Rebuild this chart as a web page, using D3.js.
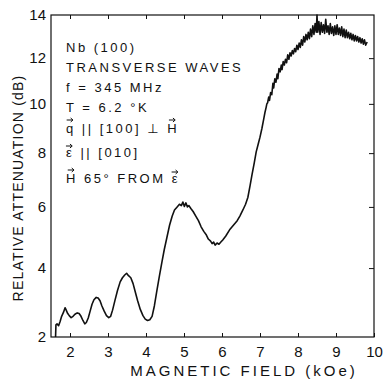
<!DOCTYPE html>
<html>
<head>
<meta charset="utf-8">
<script src="https://cdn.jsdelivr.net/npm/d3@7"></script>
<style>
  body { margin: 0; background: #fff; }
  text { font-family: "Liberation Sans", "DejaVu Sans", sans-serif; fill: #111; }
</style>
</head>
<body>
<div id="chart"></div>
<script>
// Tick values
const xTicks = [2, 3, 4, 5, 6, 7, 8, 9, 10];
const yTicks = [2, 4, 6, 8, 10, 12, 14];

// Annotation lines (vec marks letters that carry an arrow)
const notes = [
    [{t: "Nb (100)"}],
    [{t: "TRANSVERSE WAVES"}],
    [{t: "f = 345 MHz"}],
    [{t: "T = 6.2 °K"}],
    [{t: "q", vec: true}, {t: " || [100]  ⊥ "}, {t: "H", vec: true}],
    [{t: "ε", vec: true}, {t: " || [010]"}],
    [{t: "H", vec: true}, {t: " 65° FROM "}, {t: "ε", vec: true}]
];

// Trace: [field (kOe), relative attenuation (dB)]
const trace = [
    [1.62, 2.0], [1.63, 2.35], [1.66, 2.38], [1.70, 2.33], [1.74, 2.45], [1.78, 2.6],
    [1.83, 2.72], [1.87, 2.85], [1.90, 2.78], [1.94, 2.68], [1.98, 2.62], [2.03, 2.56],
    [2.08, 2.6], [2.13, 2.66], [2.19, 2.7], [2.24, 2.68], [2.29, 2.6], [2.34, 2.48],
    [2.39, 2.38], [2.43, 2.42], [2.48, 2.55], [2.53, 2.75], [2.58, 2.95], [2.63, 3.08],
    [2.69, 3.15], [2.74, 3.13], [2.79, 3.05], [2.84, 2.9], [2.90, 2.75], [2.96, 2.62],
    [3.02, 2.56], [3.07, 2.6], [3.12, 2.78], [3.18, 3.05], [3.25, 3.35], [3.32, 3.6],
    [3.38, 3.72], [3.44, 3.8], [3.49, 3.85], [3.54, 3.78], [3.60, 3.72], [3.66, 3.55],
    [3.72, 3.3], [3.78, 3.05], [3.85, 2.8], [3.92, 2.62], [3.98, 2.52], [4.04, 2.48],
    [4.10, 2.5], [4.16, 2.6], [4.22, 2.9], [4.28, 3.3], [4.35, 3.75], [4.42, 4.2],
    [4.48, 4.6], [4.55, 5.0], [4.62, 5.4], [4.69, 5.7], [4.75, 5.9], [4.82, 6.0],
    [4.88, 6.1], [4.93, 6.05], [4.97, 6.18], [5.01, 6.02], [5.05, 6.15], [5.09, 6.0],
    [5.13, 6.05], [5.18, 5.95], [5.24, 5.85], [5.31, 5.7], [5.38, 5.55], [5.45, 5.35],
    [5.52, 5.2], [5.58, 5.1], [5.64, 4.95], [5.70, 4.88], [5.74, 4.8], [5.78, 4.85],
    [5.82, 4.75], [5.87, 4.82], [5.92, 4.78], [5.97, 4.85], [6.02, 4.92], [6.10, 5.05],
    [6.20, 5.25], [6.30, 5.4], [6.40, 5.55], [6.47, 5.7], [6.55, 5.9], [6.62, 6.1],
    [6.68, 6.35], [6.74, 6.8], [6.79, 7.2], [6.85, 7.65], [6.90, 8.05], [6.95, 8.35],
    [7.00, 8.65], [7.05, 9.0], [7.10, 9.4], [7.13, 9.65], [7.16, 9.85], [7.18, 10.0],
    [7.20, 10.05], [7.23, 10.3], [7.25, 10.15], [7.28, 10.5], [7.31, 10.4], [7.34, 10.9],
    [7.36, 10.7], [7.39, 11.1], [7.42, 10.95], [7.45, 11.3], [7.47, 11.1], [7.50, 11.55],
    [7.53, 11.4], [7.56, 11.7], [7.58, 11.5], [7.61, 11.85], [7.64, 11.7], [7.67, 11.95],
    [7.70, 11.8], [7.73, 12.15], [7.76, 11.95], [7.79, 12.25], [7.82, 12.1], [7.85, 12.35],
    [7.88, 12.2], [7.91, 12.45], [7.94, 12.3], [7.97, 12.6], [8.00, 12.4], [8.03, 12.7],
    [8.06, 12.5], [8.09, 12.85], [8.12, 12.6], [8.15, 13.0], [8.18, 12.75], [8.21, 13.1],
    [8.24, 12.85], [8.27, 13.2], [8.30, 12.9], [8.33, 13.35], [8.36, 13.0], [8.39, 13.5],
    [8.42, 13.1], [8.45, 13.6], [8.48, 13.2], [8.50, 14.0], [8.52, 13.2], [8.55, 13.7],
    [8.58, 13.1], [8.61, 13.65], [8.64, 13.2], [8.67, 13.55], [8.70, 13.15], [8.73, 13.8],
    [8.76, 13.2], [8.79, 13.5], [8.82, 13.1], [8.85, 13.6], [8.88, 13.15], [8.91, 13.45],
    [8.94, 13.05], [8.97, 13.5], [9.00, 13.1], [9.03, 13.55], [9.06, 13.1], [9.09, 13.4],
    [9.12, 13.05], [9.15, 13.45], [9.18, 13.0], [9.21, 13.35], [9.24, 12.95], [9.27, 13.3],
    [9.30, 12.95], [9.33, 13.2], [9.36, 12.9], [9.39, 13.15], [9.42, 12.85], [9.45, 13.1],
    [9.48, 12.8], [9.51, 13.05], [9.54, 12.8], [9.57, 13.0], [9.60, 12.75], [9.63, 12.95],
    [9.66, 12.7], [9.69, 12.9], [9.72, 12.65], [9.75, 12.85], [9.78, 12.6], [9.82, 12.75]
];

// Dimensions and margins
const margin = {top: 15, right: 9, bottom: 44, left: 51},
      width = 383 - margin.left - margin.right,
      height = 381 - margin.top - margin.bottom;

const svg = d3.select("#chart")
    .append("svg")
    .attr("width", 383)
    .attr("height", 381)
  .append("g")
    .attr("transform", `translate(${margin.left},${margin.top})`);

// Scales (the recorder's dB axis is not evenly spaced)
const x = d3.scaleLinear()
    .domain([1.5, 10])
    .range([0, width]);

const yStops = [1, 0.786, 0.596, 0.429, 0.276, 0.134, 0];
const y = d3.scaleLinear()
    .domain(yTicks)
    .range(yStops.map(f => f * height));

// Frame
svg.append("rect")
    .attr("width", width)
    .attr("height", height)
    .attr("fill", "none")
    .attr("stroke", "#111")
    .attr("stroke-width", 1.2);

// Bottom axis
svg.append("g")
    .attr("transform", `translate(0,${height})`)
    .call(d3.axisBottom(x).tickValues(xTicks).tickSizeInner(-4).tickSizeOuter(0).tickPadding(9))
    .call(g => g.select(".domain").remove())
    .call(g => g.selectAll("text").attr("font-size", 15).attr("font-family", "Liberation Sans"));

// Top axis ticks
svg.append("g")
    .call(d3.axisTop(x).tickValues(xTicks.slice(0, -1)).tickSizeInner(-4).tickSizeOuter(0).tickFormat(""))
    .call(g => g.select(".domain").remove());

// Left axis
svg.append("g")
    .call(d3.axisLeft(y).tickValues(yTicks).tickSize(0).tickPadding(5))
    .call(g => g.select(".domain").remove())
    .call(g => g.selectAll("text").attr("font-size", 15).attr("font-family", "Liberation Sans"));

// Right axis ticks
svg.append("g")
    .attr("transform", `translate(${width},0)`)
    .call(d3.axisRight(y).tickValues(yTicks.slice(1, -1)).tickSizeInner(-5).tickSizeOuter(0).tickFormat(""))
    .call(g => g.select(".domain").remove());

svg.selectAll(".tick line").attr("stroke", "#111");

// The trace
const line = d3.line()
    .x(d => x(d[0]))
    .y(d => y(d[1]));

svg.append("path")
    .datum(trace)
    .attr("fill", "none")
    .attr("stroke", "#111")
    .attr("stroke-width", 1.6)
    .attr("stroke-linejoin", "round")
    .attr("d", line);

// Axis labels
svg.append("text")
    .attr("text-anchor", "middle")
    .attr("x", 193)
    .attr("y", height + 39)
    .attr("font-size", 15)
    .attr("letter-spacing", 3)
    .text("MAGNETIC FIELD (kOe)");

svg.append("text")
    .attr("text-anchor", "middle")
    .attr("transform", "rotate(-90)")
    .attr("x", -173)
    .attr("y", -margin.left + 23)
    .attr("font-size", 14)
    .attr("letter-spacing", 1.2)
    .text("RELATIVE ATTENUATION (dB)");

// Annotation block
const lineY = [37, 57, 77, 97, 118, 142, 168];
notes.forEach((parts, i) => {
    const t = svg.append("text")
        .attr("x", 15)
        .attr("y", lineY[i])
        .attr("font-size", 13)
        .attr("letter-spacing", 2.5)
        .attr("font-family", "DejaVu Sans");
    parts.forEach(p => {
        const span = t.append("tspan").text(p.t);
        if (p.vec) {
            const box = span.node().getExtentOfChar(0);
            const cx = box.x + box.width / 2 - 1.2,
                  ay = (p.t === "ε" ? lineY[i] - 11 : lineY[i] - 13);
            svg.append("path")
                .attr("d", `M${cx - 3},${ay}H${cx + 3}M${cx + 1},${ay - 2}L${cx + 3.3},${ay}L${cx + 1},${ay + 2}`)
                .attr("fill", "none")
                .attr("stroke", "#111")
                .attr("stroke-width", 1);
        }
    });
});
</script>
</body>
</html>
